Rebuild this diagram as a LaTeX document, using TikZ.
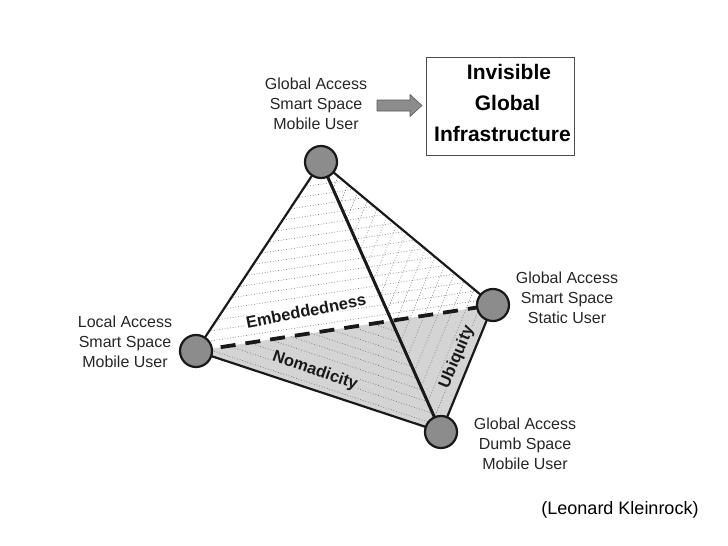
\documentclass[tikz,border=0pt]{standalone}
\usepackage{xcolor}
\usepackage{fontspec}
\setmainfont{Liberation Sans}
\usepackage{tikz}
\usetikzlibrary{calc}
\tikzstyle{edge}   = [line width=2.2pt, black!90, line join=round]
\tikzstyle{hidden} = [line width=3.8pt, black!90, dash pattern=on 15pt off 10pt]
\tikzstyle{hatch}  = [black!55, dotted, line width=0.7pt]

\begin{document}
\begin{tikzpicture}[
    x=1pt, y=-1pt,
    vertex/.style={circle, draw=black!90, line width=2.2pt, fill=black!45, minimum size=32pt, inner sep=0pt},
    vlabel/.style={align=center, font=\fontsize{16}{20}\selectfont, text=black!85},
    axis/.style={font=\bfseries\fontsize{16.5}{20}\selectfont, text=black!90, inner sep=1pt},
    blockarrow/.style={fill=black!45, draw=black!65, line width=0.6pt, line join=round},
  ]
  \useasboundingbox (0,0) rectangle (728,546);
  \coordinate (T) at (321,162);
  \coordinate (L) at (196,351);
  \coordinate (R) at (493,305);
  \coordinate (B) at (441,432);
  \coordinate (X) at (intersection of T--B and L--R);

  % bottom face
  \fill[black!17] (L) -- (R) -- (B) -- cycle;
  \begin{scope}
    \clip (T) -- (L) -- (R) -- cycle;
    \foreach \y in {150,160,...,420}
      \draw[hatch] (150,\y) -- (550,\y-60.4);
  \end{scope}
  \begin{scope}
    \clip (T) -- (B) -- (R) -- cycle;
    \foreach \x in {310,323,...,590}
      \draw[hatch] (\x,150) -- (\x-122.8,450);
  \end{scope}
  \begin{scope}
    \clip (L) -- (X) -- (B) -- cycle;
    \foreach \y in {220,230,...,360}
      \draw[hatch] (150,\y) -- (550,\y+132.2);
  \end{scope}

  \node[axis, fill=white, rotate=11] (emb) at (306,311) {Embeddedness};
  \node[axis, fill=black!17, rotate=-19] (nom) at (315,371) {Nomadicity};
  \node[axis, fill=black!17, rotate=67] (ubi) at (457,357) {Ubiquity};

  \draw[hidden] (L) -- (R);
  \draw[edge] (T) -- (L) -- (B) -- (R) -- cycle;
  \draw[edge, line width=3pt] (T) -- (B);

  \node[vertex] (vT) at (T) {};
  \node[vertex] (vL) at (L) {};
  \node[vertex] (vR) at (R) {};
  \node[vertex] (vB) at (B) {};

  \node[vlabel] (lblT) at (316,104) {Global Access\\Smart Space\\Mobile User};
  \node[vlabel] (lblL) at (125,342) {Local Access\\Smart Space\\Mobile User};
  \node[vlabel] (lblR) at (567,298) {Global Access\\Smart Space\\Static User};
  \node[vlabel] (lblB) at (525,444) {Global Access\\Dumb Space\\Mobile User};

  \node[draw=black!70, line width=0.8pt, minimum width=148pt, minimum height=98pt,
    align=center, font=\bfseries\fontsize{21}{31}\selectfont] (goal) at (500,106) {};
  \node[align=center, font=\bfseries\fontsize{21}{31}\selectfont] (goaltxt) at (502.5,103)
    {\hspace*{13pt}Invisible\\\hspace*{10pt}Global\\Infrastructure};

  \coordinate (flow) at (377,105.5);
  \draw[blockarrow] (flow) ++(0,-5.5) -- ++(33,0) -- ++(0,-5.5) -- ++(12,11)
    -- ++(-12,11) -- ++(0,-5.5) -- ++(-33,0) -- cycle;

  \node[font=\fontsize{18}{22}\selectfont] (cite) at (620,510) {(Leonard Kleinrock)};
\end{tikzpicture}
\end{document}
